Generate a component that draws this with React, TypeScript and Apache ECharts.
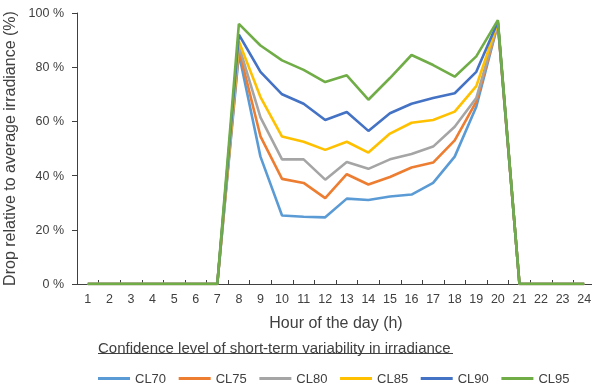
import React, { useEffect, useRef } from "react";
import * as echarts from "echarts";

const hours = ["1","2","3","4","5","6","7","8","9","10","11","12","13","14","15","16","17","18","19","20","21","22","23","24"];
const seriesNames = ["CL70", "CL75", "CL80", "CL85", "CL90", "CL95"];
const colors = ["#5B9BD5", "#ED7D31", "#A5A5A5", "#FFC000", "#4472C4", "#70AD47"];
const cl70 = [0,0,0,0,0,0,0,85,47,25.3,24.8,24.6,31.5,31,32.3,33,37.3,47,65.4,96,0,0,0,0];
const cl75 = [0,0,0,0,0,0,0,86.5,54.5,38.8,37.3,31.7,40.5,36.7,39.5,43,44.8,53,67.3,96,0,0,0,0];
const cl80 = [0,0,0,0,0,0,0,88,61.5,46,46,38.5,45,42.5,46,48,50.7,58,68.6,96.3,0,0,0,0];
const cl85 = [0,0,0,0,0,0,0,89.5,69,54.4,52.5,49.5,52.5,48.5,55.5,59.5,60.5,63.6,73,96.5,0,0,0,0];
const cl90 = [0,0,0,0,0,0,0,92,78.3,70,66.5,60.5,63.5,56.5,63,66.5,68.6,70.4,78.3,96.8,0,0,0,0];
const cl95 = [0,0,0,0,0,0,0,96,88,82.5,79,74.5,77,68,76,84.5,80.8,76.5,84,97.4,0,0,0,0];
const allValues = [cl70, cl75, cl80, cl85, cl90, cl95];
const yTicks = [0, 20, 40, 60, 80, 100];
const legendTitle = "Confidence level of short-term variability in irradiance";
const xName = "Hour of the day (h)";
const yName = "Drop relative to average irradiance (%)";

export default function App() {
  const ref = useRef<HTMLDivElement>(null);
  useEffect(() => {
    if (!ref.current) return;
    const chart = echarts.init(ref.current, null, { renderer: "svg" });
    const font = "'Liberation Sans', Arial, sans-serif";
    chart.setOption({
      animation: false,
      textStyle: { fontFamily: font },
      grid: { left: 77, top: 13, width: 518, height: 271, containLabel: false, outerBoundsMode: "none" },
      xAxis: {
        type: "category",
        data: hours,
        boundaryGap: true,
        name: xName,
        nameLocation: "middle",
        nameGap: 30,
        nameTextStyle: { fontSize: 16, color: "#404040", fontFamily: font },
        axisLine: { lineStyle: { color: "#404040", width: 1 } },
        axisTick: { show: true, inside: true, length: 4, interval: 0, lineStyle: { color: "#404040" } },
        axisLabel: { interval: 0, margin: 8, fontSize: 12.5, color: "#404040", fontFamily: font },
        splitLine: { show: false },
      },
      yAxis: {
        type: "value",
        min: yTicks[0],
        max: yTicks[yTicks.length - 1],
        interval: 20,
        name: yName,
        nameLocation: "middle",
        nameGap: 60,
        nameTextStyle: { fontSize: 16, color: "#404040", fontFamily: font },
        axisLine: { show: true, lineStyle: { color: "#404040", width: 1 } },
        axisTick: { show: true, inside: false, length: 5, lineStyle: { color: "#404040" } },
        axisLabel: { formatter: "{value} %", margin: 13, fontSize: 12.5, color: "#404040", fontFamily: font },
        splitLine: { show: false },
      },
      legend: {
        data: seriesNames.map((n) => ({ name: n, icon: "rect" })),
        left: 98,
        top: 372,
        padding: 0,
        itemWidth: 32,
        itemHeight: 3,
        itemGap: 12.6,
        textStyle: { fontSize: 13, color: "#404040", fontFamily: font },
      },
      graphic: [
        {
          type: "text",
          left: 98,
          top: 340,
          style: { text: legendTitle, fontSize: 15, fill: "#404040", fontFamily: font },
        },
        {
          type: "line",
          shape: { x1: 98, y1: 353.5, x2: 453, y2: 353.5 },
          style: { stroke: "#404040", lineWidth: 1 },
        },
      ],
      series: seriesNames.map((n, i) => ({
        name: n,
        type: "line",
        data: allValues[i],
        symbol: "none",
        smooth: false,
        color: colors[i],
        lineStyle: { width: 2.6, color: colors[i] },
        z: 3 + i,
      })),
    });
    return () => chart.dispose();
  }, []);
  return <div ref={ref} style={{ position: "fixed", left: 0, top: 0, width: 592, height: 387 }} />;
}
